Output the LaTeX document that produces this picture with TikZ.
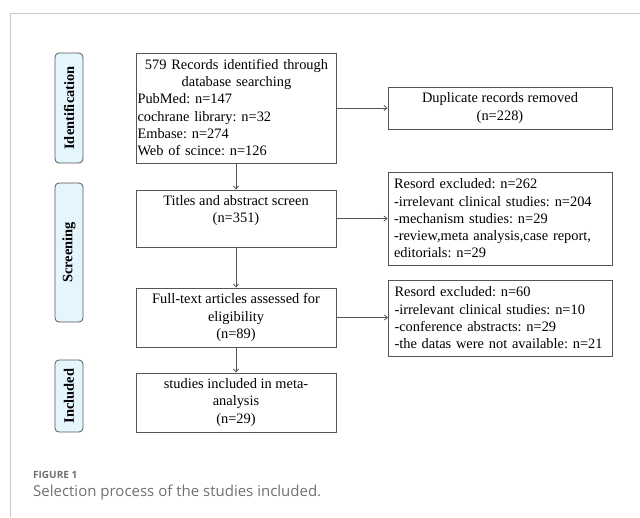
\documentclass[tikz,border=0pt]{standalone}
\usepackage{fontspec}
\setmainfont{Liberation Serif}
\newfontfamily\capfont{Open Sans}
\usetikzlibrary{arrows.meta}
\frenchspacing
\definecolor{boxline}{HTML}{555555}
\definecolor{tabfill}{HTML}{E4F5FD}
\definecolor{framegray}{HTML}{C8C8C8}
\definecolor{capgray}{HTML}{707070}
\tikzset{
  txt/.style={font=\fontsize{14.4}{17.3}\selectfont, inner sep=0pt},
  flowbox/.style={draw=boxline, line width=0.9pt, minimum width=200pt, rectangle, inner sep=0pt},
  sidebox/.style={draw=boxline, line width=0.9pt, minimum width=224pt, rectangle, inner xsep=6pt, inner ysep=0pt,
    text width=212pt, align=left, font=\fontsize{14.4}{17.3}\selectfont},
  tabbox/.style={draw=boxline, line width=0.8pt, fill=tabfill, rounded corners=4pt, minimum width=28pt},
  tabtxt/.style={rotate=90, font=\fontsize{14.4}{17}\selectfont\bfseries, inner sep=0pt},
  flowarrow/.style={draw=boxline, line width=0.8pt, -{Straight Barb[length=3pt,width=5pt]}}
}
\begin{document}
\begin{tikzpicture}[x=1pt,y=-1pt]
\useasboundingbox (0,0) rectangle (640,517);
% frame
\draw[framegray, line width=0.8pt] (10,517) -- (10,13) -- (640,13);
% tabs
\node[tabbox, minimum height=110pt] (tabI) at (69,108) {};
\node[tabtxt] (tabIt) at (tabI.center) {Identification};
\node[tabbox, minimum height=139pt] (tabS) at (69,252.5) {};
\node[tabtxt] (tabSt) at (tabS.center) {Screening};
\node[tabbox, minimum height=72pt] (tabN) at (69,396) {};
\node[tabtxt] (tabNt) at (tabN.center) {Included};
% main flow boxes
\node[flowbox, minimum height=110pt] (b1) at (236,108) {};
\node[txt, text width=198pt, align=left] (b1t) at (236.5,107.5) {\centering 579 Records identified through\\database searching\par\raggedright PubMed: n=147\\cochrane library: n=32\\Embase: n=274\\Web of scince: n=126};
\node[flowbox, minimum height=57pt] (b2) at (236,218.5) {};
\node[txt, align=center] (b2t) at (236,210.5) {Titles and abstract screen\\(n=351)};
\node[flowbox, minimum height=59pt, txt, align=center] (b3) at (236,317.5) {Full-text articles assessed for\\eligibility\\(n=89)};
\node[flowbox, minimum height=59pt, txt, align=center] (b4) at (236,402.5) {studies included in meta-\\analysis\\(n=29)};
% side boxes
\node[flowbox, minimum width=224pt, minimum height=42pt, txt, align=center] (d1) at (500,108) {Duplicate records removed\\(n=228)};
\node[sidebox, minimum height=93pt] (e1) at (500,218.5) {Resord excluded: n=262\\-irrelevant clinical studies: n=204\\-mechanism studies: n=29\\-review,meta analysis,case report,\\editorials: n=29};
\node[sidebox, minimum width=223pt, minimum height=76pt] (e2) at (500.5,318) {Resord excluded: n=60\\-irrelevant clinical studies: n=10\\-conference abstracts: n=29\\-the datas were not available: n=21};
% arrows
\draw[flowarrow] (b1.south) -- (b2.north);
\draw[flowarrow] (b2.south) -- (b3.north);
\draw[flowarrow] (b3.south) -- (b4.north);
\draw[flowarrow] (b1.east) -- (d1.west);
\draw[flowarrow] (b2.east) -- (b2.east -| e1.west);
\draw[flowarrow] (b3.east) -- (b3.east -| e2.west);
% caption
\node[anchor=west, inner sep=0pt, font=\capfont\fontsize{10}{12}\selectfont\bfseries, text=capgray] (cap1) at (33,475) {FIGURE 1};
\node[anchor=west, inner sep=0pt, font=\capfont\fontsize{15}{18}\selectfont, text=capgray] (cap2) at (33,493) {Selection process of the studies included.};
\end{tikzpicture}
\end{document}
